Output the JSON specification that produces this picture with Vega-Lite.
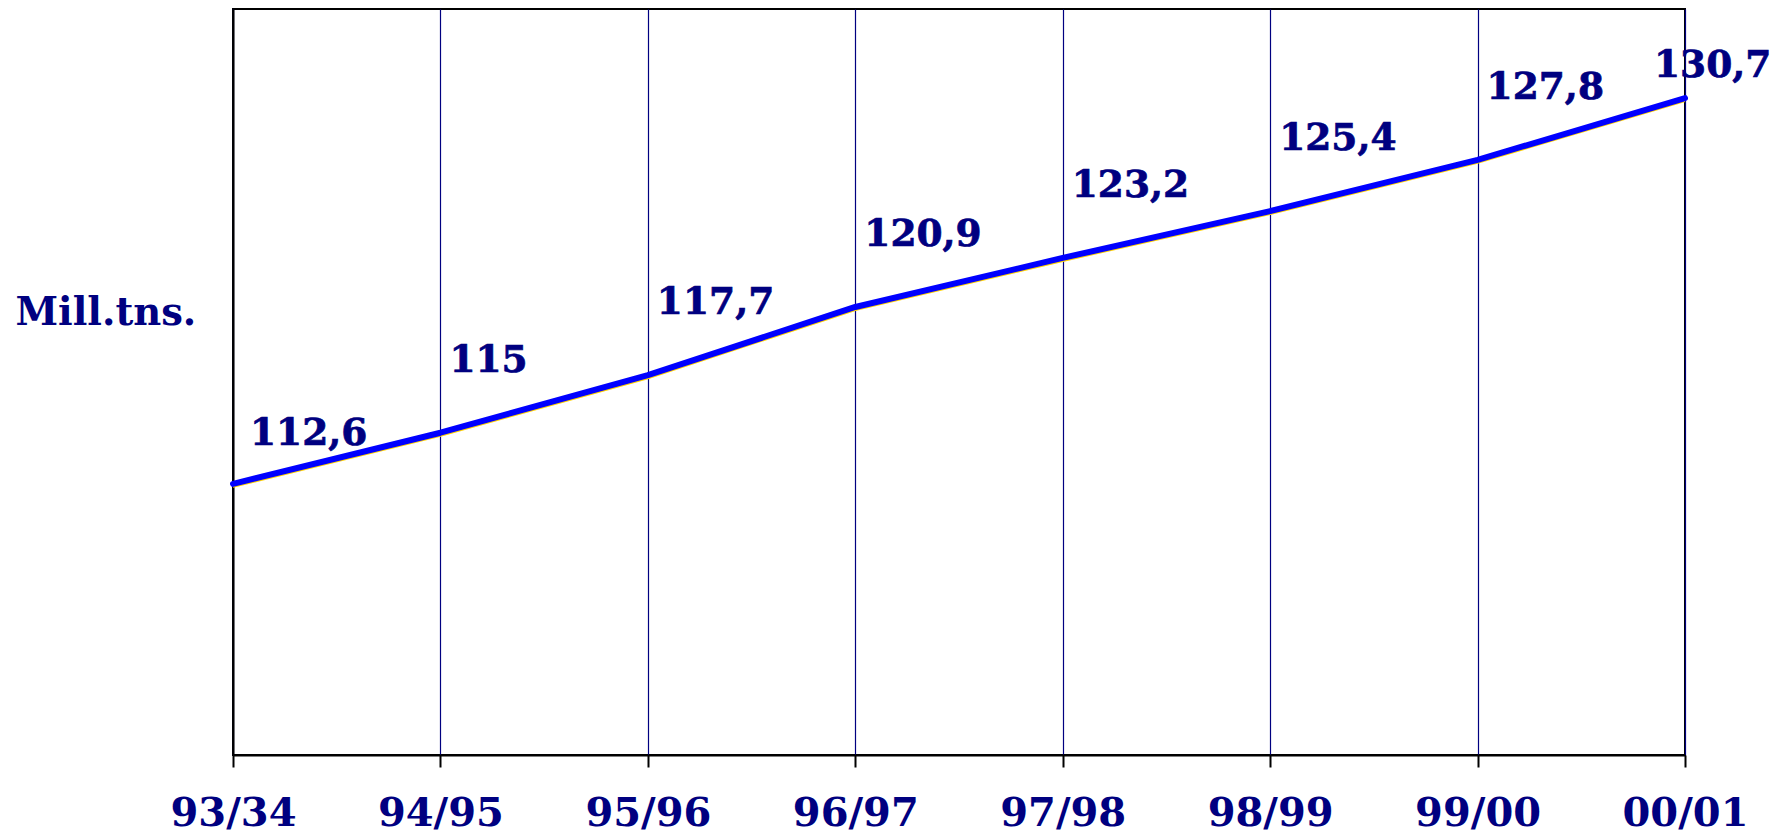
{
  "$schema": "https://vega.github.io/schema/vega-lite/v6.json",
  "width": 1452,
  "height": 746,
  "autosize": {"type": "none"},
  "padding": {"left": 233, "top": 9, "right": 99, "bottom": 80},
  "background": "white",
  "config": {
    "view": {"stroke": "#000000", "strokeWidth": 2},
    "font": "DejaVu Serif"
  },
  "data": {
    "values": [
      {"year": "93/34", "value": 112.6, "label": "112,6"},
      {"year": "94/95", "value": 115.0, "label": "115"},
      {"year": "95/96", "value": 117.7, "label": "117,7"},
      {"year": "96/97", "value": 120.9, "label": "120,9"},
      {"year": "97/98", "value": 123.2, "label": "123,2"},
      {"year": "98/99", "value": 125.4, "label": "125,4"},
      {"year": "99/00", "value": 127.8, "label": "127,8"},
      {"year": "00/01", "value": 130.7, "label": "130,7"}
    ]
  },
  "encoding": {
    "x": {
      "field": "year", "type": "ordinal", "sort": null,
      "scale": {"type": "point", "padding": 0},
      "axis": {
        "title": null, "labelAngle": 0,
        "labelFont": "DejaVu Serif", "labelFontWeight": "bold", "labelFontSize": 40, "labelColor": "#000080",
        "labelBaseline": "alphabetic", "labelPadding": 58,
        "tickColor": "#000000", "tickWidth": 2, "tickSize": 12,
        "domainColor": "#000000", "domainWidth": 2,
        "grid": true, "gridColor": "#000080", "gridWidth": 1.2, "gridOpacity": 1
      }
    },
    "y": {
      "field": "value", "type": "quantitative",
      "scale": {"domain": [99.88, 134.88], "zero": false, "nice": false},
      "axis": {
        "title": "Mill.tns.", "titleAngle": 0, "titleAlign": "left", "titleBaseline": "alphabetic",
        "titleX": -218, "titleY": 315,
        "titleFont": "DejaVu Serif", "titleFontWeight": "bold", "titleFontSize": 38.5, "titleColor": "#000080",
        "labels": false, "ticks": false, "grid": false,
        "domainColor": "#000000", "domainWidth": 2
      }
    }
  },
  "layer": [
    {"mark": {"type": "line", "color": "#FFD200", "strokeWidth": 2, "yOffset": 3}},
    {"mark": {"type": "line", "color": "#0000FF", "strokeWidth": 6, "strokeCap": "round", "strokeJoin": "round"}},
    {
      "transform": [{"filter": "datum.year !== '93/34' && datum.year !== '00/01'"}],
      "mark": {"type": "text", "align": "left", "baseline": "alphabetic", "dx": 9, "dy": -61, "font": "DejaVu Serif", "fontWeight": "bold", "fontSize": 37.5, "color": "#000080", "stroke": "#000080", "strokeWidth": 0.7},
      "encoding": {"text": {"field": "label"}}
    },
    {
      "transform": [{"filter": "datum.year === '93/34'"}],
      "mark": {"type": "text", "align": "left", "baseline": "alphabetic", "dx": 17, "dy": -39, "font": "DejaVu Serif", "fontWeight": "bold", "fontSize": 37.5, "color": "#000080", "stroke": "#000080", "strokeWidth": 0.7},
      "encoding": {"text": {"field": "label"}}
    },
    {
      "transform": [{"filter": "datum.year === '00/01'"}],
      "mark": {"type": "text", "align": "left", "baseline": "alphabetic", "dx": -31, "dy": -21, "font": "DejaVu Serif", "fontWeight": "bold", "fontSize": 37.5, "color": "#000080", "stroke": "#000080", "strokeWidth": 0.7},
      "encoding": {"text": {"field": "label"}}
    }
  ]
}
